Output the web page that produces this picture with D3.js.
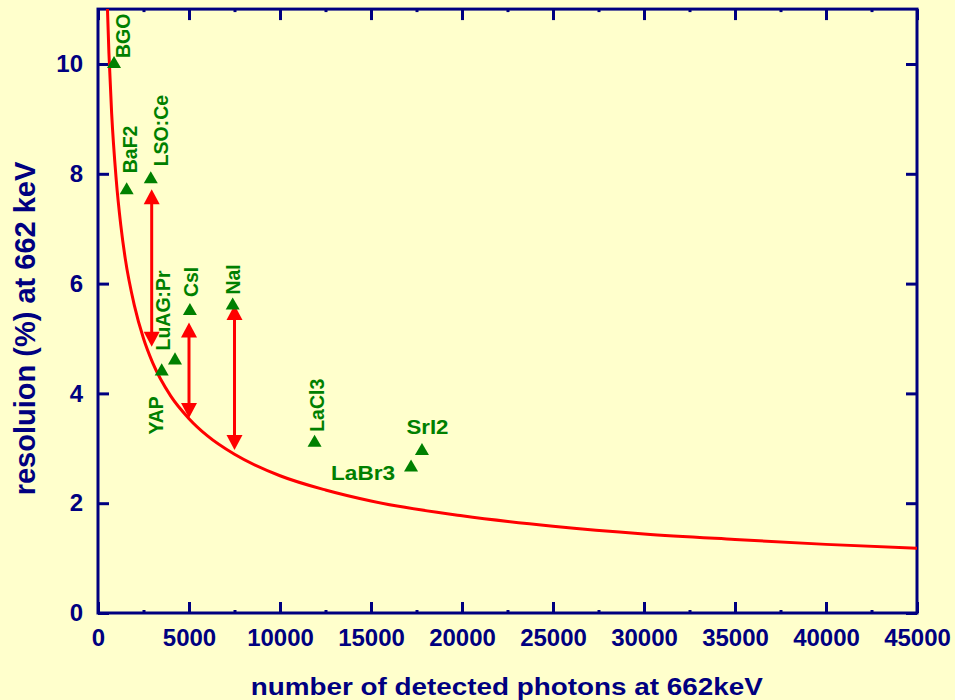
<!DOCTYPE html>
<html>
<head>
<meta charset="utf-8">
<script src="https://cdn.jsdelivr.net/npm/d3@7"></script>
<style>
  html, body { margin: 0; padding: 0; background: #FFFFCC; }
  svg { display: block; }
  text { font-family: "Liberation Sans", Arial, Helvetica, sans-serif; font-weight: bold; }
</style>
</head>
<body>
<svg id="chart" width="955" height="700"></svg>
<script>
// ---- data ----
const scintNames = ["BGO", "BaF2", "LSO:Ce", "YAP", "LuAG:Pr", "CsI", "NaI", "LaCl3", "LaBr3", "SrI2"];
const photons    = [880, 1575, 2900, 3500, 4230, 5050, 7400, 11900, 17200, 17800];
const resolution = [10.0, 7.7, 7.9, 4.4, 4.6, 5.5, 5.6, 3.1, 2.65, 2.95];

// statistical-limit curve
const curveN   = [480, 600, 750, 1000, 1250, 1500, 2000, 2500, 3000, 4000, 5000, 6000, 7500, 10000, 12500, 15000, 20000, 25000, 30000, 35000, 40000, 45000];
const curveRes = [11.4, 10.2, 9.1, 7.9, 7.07, 6.45, 5.6, 5.0, 4.56, 3.95, 3.54, 3.23, 2.89, 2.5, 2.24, 2.04, 1.77, 1.58, 1.44, 1.34, 1.25, 1.18];

// red double arrows (gap between measured and statistical limit)
const arrowN    = [2950, 5000, 7500];
const arrowLow  = [4.85, 3.55, 2.97];
const arrowHigh = [7.72, 5.29, 5.61];

// ticks
const xTicks = [0, 5000, 10000, 15000, 20000, 25000, 30000, 35000, 40000, 45000];
const xMinor = [2500, 7500, 12500, 17500, 22500, 27500, 32500, 37500, 42500];
const yTicks = [0, 2, 4, 6, 8, 10];

const xTitle = "number of detected photons at 662keV";
const yTitle = "resoluion (%) at 662 keV";

// ---- layout (not data) ----
const pL = 98, pR = 917, pB = 613, pT = 9.1;
const navy = "#000080", green = "#008000", red = "#FF0000";
// label placement relative to marker [dx, dy, rotated, anchor]
const labelPlace = {
  "BGO":     [16, -6, true, "start"],
  "BaF2":    [10, -17, true, "start"],
  "LSO:Ce":  [17, -13, true, "start"],
  "YAP":     [1.5, 63, true, "start"],
  "LuAG:Pr": [-5, -10, true, "start"],
  "CsI":     [8, -14, true, "start"],
  "NaI":     [7, -11, true, "start"],
  "LaCl3":   [9, -11, true, "start"],
  "LaBr3":   [-16, 12.6, false, "end"],
  "SrI2":    [5.5, -17, false, "middle"]
};

const svg = d3.select("#chart");
svg.append("rect").attr("width", 955).attr("height", 700).attr("fill", "#FFFFCC");

const x = d3.scaleLinear().domain([0, 45000]).range([pL, pR]);
const y = d3.scaleLinear().domain([0, 11]).range([pB, pT]);

// clip
svg.append("clipPath").attr("id", "plotclip")
  .append("rect").attr("x", pL).attr("y", pT).attr("width", pR - pL).attr("height", pB - pT);

// axes
const axB = svg.append("g").attr("transform", `translate(0,${pB})`)
  .call(d3.axisBottom(x).tickValues(xTicks).tickSize(-11).tickSizeOuter(0).tickPadding(16).tickFormat(d3.format("d")));
const axL = svg.append("g").attr("transform", `translate(${pL},0)`)
  .call(d3.axisLeft(y).tickValues(yTicks).tickSize(-11).tickSizeOuter(0).tickPadding(15).tickFormat(d3.format("d")));
const axT = svg.append("g").attr("transform", `translate(0,${pT})`)
  .call(d3.axisTop(x).tickValues(xTicks).tickSize(-11).tickSizeOuter(0).tickFormat(""));
const axR = svg.append("g").attr("transform", `translate(${pR},0)`)
  .call(d3.axisRight(y).tickValues(yTicks).tickSize(-11).tickSizeOuter(0).tickFormat(""));
const mB = svg.append("g").attr("transform", `translate(0,${pB})`)
  .call(d3.axisBottom(x).tickValues(xMinor).tickSize(-3).tickSizeOuter(0).tickFormat(""));
const mT = svg.append("g").attr("transform", `translate(0,${pT})`)
  .call(d3.axisTop(x).tickValues(xMinor).tickSize(-3).tickSizeOuter(0).tickFormat(""));

[axB, axL, axT, axR, mB, mT].forEach(g => {
  g.select(".domain").remove();
  g.selectAll(".tick line").attr("stroke", navy).attr("stroke-width", 3);
  g.selectAll(".tick text").attr("fill", navy).attr("font-size", 24)
    .attr("font-family", "'Liberation Sans', Arial, sans-serif").attr("font-weight", "bold");
});

// frame
svg.append("rect").attr("x", pL).attr("y", pT).attr("width", pR - pL).attr("height", pB - pT)
  .attr("fill", "none").attr("stroke", navy).attr("stroke-width", 3);

// curve
const line = d3.line().x((d, i) => x(curveN[i])).y((d, i) => y(curveRes[i])).curve(d3.curveMonotoneX);
svg.append("path").datum(curveN).attr("d", line).attr("clip-path", "url(#plotclip)")
  .attr("fill", "none").attr("stroke", red).attr("stroke-width", 3);

// arrows
const headH = 15, headW = 8;
arrowN.forEach((n, i) => {
  const ax = x(n), yHi = y(arrowHigh[i]), yLo = y(arrowLow[i]);
  svg.append("line").attr("x1", ax).attr("x2", ax).attr("y1", yHi + headH - 2).attr("y2", yLo - headH + 2)
    .attr("stroke", red).attr("stroke-width", 3);
  svg.append("path").attr("fill", red)
    .attr("d", `M${ax},${yHi} L${ax - headW},${yHi + headH} L${ax + headW},${yHi + headH} Z`);
  svg.append("path").attr("fill", red)
    .attr("d", `M${ax},${yLo} L${ax - headW},${yLo - headH} L${ax + headW},${yLo - headH} Z`);
});

// markers
const tri = d3.symbol(d3.symbolTriangle, 85);
scintNames.forEach((name, i) => {
  const px = x(photons[i]), py = y(resolution[i]);
  svg.append("path").attr("d", tri()).attr("transform", `translate(${px},${py})`).attr("fill", green);
  const [dx, dy, rot, anchor] = labelPlace[name];
  const t = svg.append("text").text(name).attr("fill", green).attr("text-anchor", anchor)
    .attr("x", px + dx).attr("y", py + dy);
  if (rot) {
    t.attr("font-size", 19.5).attr("transform", `rotate(-90,${px + dx},${py + dy})`);
  } else {
    t.attr("font-size", 21).attr("textLength", name === "LaBr3" ? 64 : 42).attr("lengthAdjust", "spacingAndGlyphs");
  }
});

// titles
svg.append("text").text(xTitle).attr("x", 506.8).attr("y", 695).attr("text-anchor", "middle")
  .attr("font-size", 24).attr("fill", navy).attr("textLength", 512).attr("lengthAdjust", "spacingAndGlyphs");
svg.append("text").text(yTitle).attr("text-anchor", "middle").attr("font-size", 29).attr("fill", navy)
  .attr("transform", "translate(35,328.5) rotate(-90)");
</script>
</body>
</html>
